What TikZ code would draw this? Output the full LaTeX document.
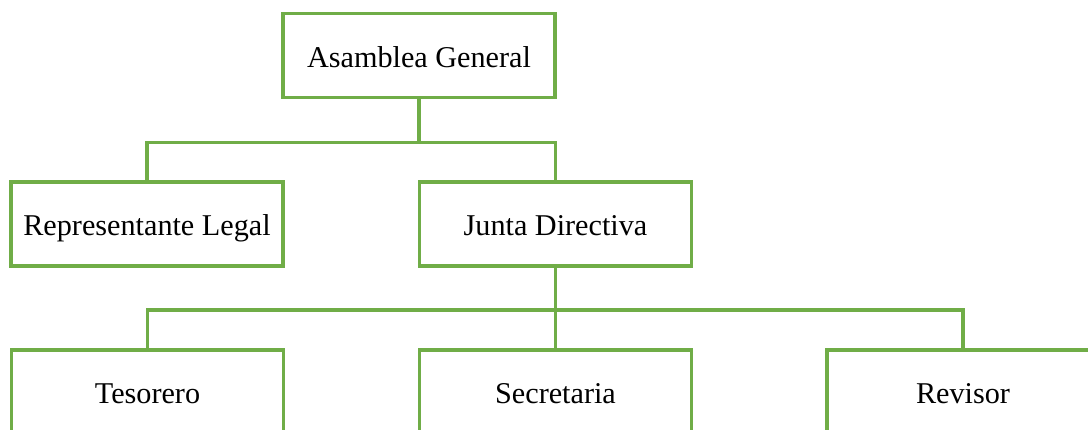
\documentclass[tikz,border=0pt]{standalone}
\usepackage{fontspec}
\setmainfont{Liberation Serif}
\definecolor{boxgreen}{HTML}{70AD47}
\begin{document}
\begin{tikzpicture}[
    x=0.5pt, y=-0.5pt,
  org/.style={rectangle, draw=boxgreen, line width=1.9pt, fill=white,
    minimum width=136pt, minimum height=42pt, inner sep=0pt,
    text height=12pt, text depth=0.3pt, font=\fontsize{15.1}{18}\selectfont},
  link/.style={draw=boxgreen, line width=1.9pt}
]
\useasboundingbox (0,0) rectangle (1088,429);
\clip (0,0) rectangle (1088,429);

% --- boxes ---
\node[org] (asamblea) at (419,55.5)  {Asamblea General};
\node[org] (legal)    at (147,224)   {Representante Legal};
\node[org] (junta)    at (555.5,224) {Junta Directiva};
\node[org] (tesorero) at (147.5,392) {Tesorero};
\node[org] (secret)   at (555.5,392) {Secretaria};
\node[org] (revisor)  at (963,392)   {Revisor};

% --- connectors ---
\draw[link] (asamblea.south) -- ++(0,43) -| (legal.north);
\draw[link] (asamblea.south) -- ++(0,43) -| (junta.north);
\draw[link] (junta.south) -- ++(0,42) -| (tesorero.north);
\draw[link] (junta.south) -- (secret.north);
\draw[link] (junta.south) -- ++(0,42) -| (revisor.north);
\end{tikzpicture}
\end{document}
